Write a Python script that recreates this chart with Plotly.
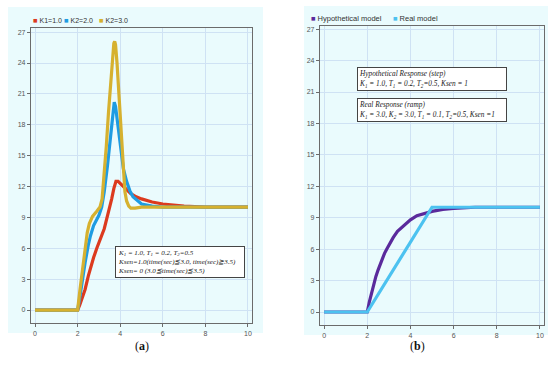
import plotly.graph_objects as go

# ---- Panel (a) data ----
t_k1 = [0, 2.0, 2.1, 2.2, 2.35, 2.5, 2.6, 2.75, 2.9, 3.0, 3.13, 3.25, 3.36, 3.5, 3.6, 3.7, 3.8, 3.9, 4.0,
        4.15, 4.3, 4.5, 4.75, 5.0, 5.5, 6.0, 6.5, 7.0, 8.0, 10]
y_k1 = [0, 0, 0.5, 1.1, 2.0, 3.3, 4.1, 5.1, 6.0, 6.5, 7.1, 7.9, 8.8, 9.9, 10.8, 11.8, 12.5, 12.5, 12.3,
        12.0, 11.6, 11.3, 11.0, 10.8, 10.5, 10.3, 10.2, 10.1, 10.0, 10.0]

t_k2 = [0, 2.0, 2.1, 2.2, 2.35, 2.5, 2.6, 2.75, 2.9, 3.0, 3.13, 3.25, 3.4, 3.5, 3.6, 3.67, 3.72, 3.78,
        3.85, 3.95, 4.05, 4.15, 4.3, 4.45, 4.6, 4.8, 5.0, 5.5, 6.0, 10]
y_k2 = [0, 0, 1.2, 2.8, 4.6, 6.3, 7.2, 8.2, 8.8, 9.2, 10.0, 11.5, 14.0, 16.0, 18.3, 19.6, 20.2, 19.8,
        18.7, 16.8, 15.0, 13.7, 12.5, 11.6, 11.0, 10.6, 10.3, 10.1, 10.0, 10.0]

t_k3 = [0, 2.0, 2.1, 2.2, 2.3, 2.45, 2.55, 2.7, 2.9, 3.05, 3.15, 3.25, 3.35, 3.45, 3.55, 3.63, 3.7, 3.74,
        3.78, 3.85, 3.92, 4.0, 4.07, 4.15, 4.22, 4.3, 4.4, 4.5, 4.7, 5.0, 10]
y_k3 = [0, 0, 1.8, 3.6, 5.2, 7.5, 8.4, 9.1, 9.6, 10.0, 10.8, 13.0, 16.0, 19.2, 22.3, 24.6, 25.9, 26.1,
        25.8, 24.0, 21.5, 18.5, 15.8, 13.0, 11.5, 10.6, 10.1, 9.9, 9.9, 10.0, 10.0]

# ---- Panel (b) data ----
t_hyp = [0, 2.0, 2.1, 2.2, 2.3, 2.4, 2.5, 2.6, 2.7, 2.8, 2.9, 3.0, 3.2, 3.4, 3.6, 3.8, 4.0, 4.3, 4.6,
         5.0, 5.5, 6.0, 7.0, 10]
y_hyp = [0, 0, 1.0, 1.9, 2.6, 3.4, 4.0, 4.6, 5.1, 5.6, 6.0, 6.4, 7.1, 7.7, 8.1, 8.5, 8.8, 9.2, 9.4,
         9.6, 9.8, 9.9, 10, 10]

t_real = [0, 2, 5, 10]
y_real = [0, 0, 10, 10]

x_ticks = [0, 2, 4, 6, 8, 10]
y_ticks = [0, 3, 6, 9, 12, 15, 18, 21, 24, 27]

names_a = ["K1=1.0", "K2=2.0", "K2=3.0"]
colors_a = ["#dc3a1e", "#1e9ce2", "#d6b12f"]
names_b = ["Hypothetical model", "Real model"]
colors_b = ["#5a2a9c", "#4cc2f0"]

BG = "#eafbfd"
GRID = "#cfe2f4"
W, H = 550, 366

fig = go.Figure()

for t, y, c in zip([t_k1, t_k2, t_k3], [y_k1, y_k2, y_k3], colors_a):
    fig.add_trace(go.Scatter(x=t, y=y, mode="lines", line=dict(color=c, width=3.2),
                             showlegend=False, xaxis="x", yaxis="y"))
for t, y, c in zip([t_hyp, t_real], [y_hyp, y_real], colors_b):
    fig.add_trace(go.Scatter(x=t, y=y, mode="lines", line=dict(color=c, width=3.2),
                             showlegend=False, xaxis="x2", yaxis="y2"))


def px_x(p):
    return p / W


def px_y(p):
    return 1 - p / H


axis_common = dict(showgrid=True, gridcolor=GRID, gridwidth=1, zeroline=False, automargin=False,
                   showline=True, linecolor="#6b6b6b", linewidth=1.3, mirror=True,
                   ticks="outside", ticklen=3, tickcolor="#6b6b6b",
                   tickfont=dict(size=7, color="#555", family="Liberation Sans"))

fig.update_layout(
    width=W, height=H, margin=dict(l=0, r=0, t=0, b=0, autoexpand=False),
    paper_bgcolor="white", plot_bgcolor=BG, showlegend=False,
    xaxis=dict(domain=[px_x(31), px_x(252)], range=[-0.19, 10.19], tickvals=x_ticks, anchor="y", **axis_common),
    yaxis=dict(domain=[px_y(323), px_y(28)], range=[-1.26, 27.4], tickvals=y_ticks, anchor="x", **axis_common),
    xaxis2=dict(domain=[px_x(320), px_x(544)], range=[-0.19, 10.19], tickvals=x_ticks, anchor="y2", **axis_common),
    yaxis2=dict(domain=[px_y(325), px_y(26)], range=[-1.24, 27.3], tickvals=y_ticks, anchor="x2", **axis_common),
    shapes=[
        dict(type="rect", xref="paper", yref="paper", x0=px_x(8), x1=px_x(263), y0=px_y(333), y1=px_y(7),
             fillcolor=BG, line=dict(width=0), layer="below"),
        dict(type="rect", xref="paper", yref="paper", x0=px_x(304), x1=px_x(548), y0=px_y(335), y1=px_y(6),
             fillcolor=BG, line=dict(width=0), layer="below"),
    ],
)

# legends drawn as text with coloured squares
leg_font_a = dict(size=7, color="#333", family="Liberation Sans")
leg_a_x = [31, 62, 97]
for n, c, x in zip(names_a, colors_a, leg_a_x):
    fig.add_annotation(xref="paper", yref="paper", x=px_x(x), y=px_y(21), xanchor="left", yanchor="middle",
                       showarrow=False, font=leg_font_a,
                       text=f'<span style="color:{c};font-size:7.5px">■</span> {n}')
leg_font_b = dict(size=7.5, color="#333", family="Liberation Sans")
leg_b_x = [309, 391]
for n, c, x in zip(names_b, colors_b, leg_b_x):
    fig.add_annotation(xref="paper", yref="paper", x=px_x(x), y=px_y(19), xanchor="left", yanchor="middle",
                       showarrow=False, font=leg_font_b,
                       text=f'<span style="color:{c};font-size:7.5px">■</span> {n}')

ann_font_a = dict(family="Liberation Serif", size=7, color="#222")
fig.add_annotation(xref="paper", yref="paper", x=px_x(115), y=px_y(246), xanchor="left", yanchor="top",
                   align="left", valign="middle", showarrow=False, bgcolor="white", bordercolor="#444",
                   borderwidth=1, borderpad=2, width=124, height=26,
                   font=ann_font_a,
                   text="<i>K<sub>1</sub> = 1.0, T<sub>1</sub> = 0.2, T<sub>2</sub>=0.5</i><br>"
                        "<i>Ksen=1.0(time(sec)≦3.0, time(sec)≧3.5)</i><br>"
                        "<i>Ksen= 0 (3.0≦time(sec)≦3.5)</i>")

ann_font_b = dict(family="Liberation Serif", size=7.3, color="#222")
fig.add_annotation(xref="paper", yref="paper", x=px_x(357), y=px_y(67), xanchor="left", yanchor="top",
                   align="left", valign="middle", showarrow=False, bgcolor="white", bordercolor="#444",
                   borderwidth=1, borderpad=1, width=146, height=20,
                   font=ann_font_b,
                   text="<i>Hypothetical Response (step)</i><br>"
                        "<i>K<sub>1</sub> = 1.0, T<sub>1</sub> = 0.2, T<sub>2</sub>=0.5, Ksen = 1</i>")
fig.add_annotation(xref="paper", yref="paper", x=px_x(357), y=px_y(98), xanchor="left", yanchor="top",
                   align="left", valign="middle", showarrow=False, bgcolor="white", bordercolor="#444",
                   borderwidth=1, borderpad=1, width=146, height=20,
                   font=ann_font_b,
                   text="<i>Real Response (ramp)</i><br>"
                        "<i>K<sub>1</sub> = 3.0, K<sub>2</sub> = 3.0, T<sub>1</sub> = 0.1, T<sub>2</sub>=0.5, Ksen =1</i>")

lab_font = dict(family="Liberation Serif", size=12, color="#111")
fig.add_annotation(xref="paper", yref="paper", x=px_x(133), y=px_y(355), showarrow=False, font=lab_font,
                   text="(<b>a</b>)")
fig.add_annotation(xref="paper", yref="paper", x=px_x(427), y=px_y(355), showarrow=False, font=lab_font,
                   text="(<b>b</b>)")

# remove the default page margin so the 550x366 figure fills the window exactly
fig.write_html("out.html", config={"displayModeBar": False},
               post_script="document.body.style.margin='0';document.body.style.overflow='hidden';")
